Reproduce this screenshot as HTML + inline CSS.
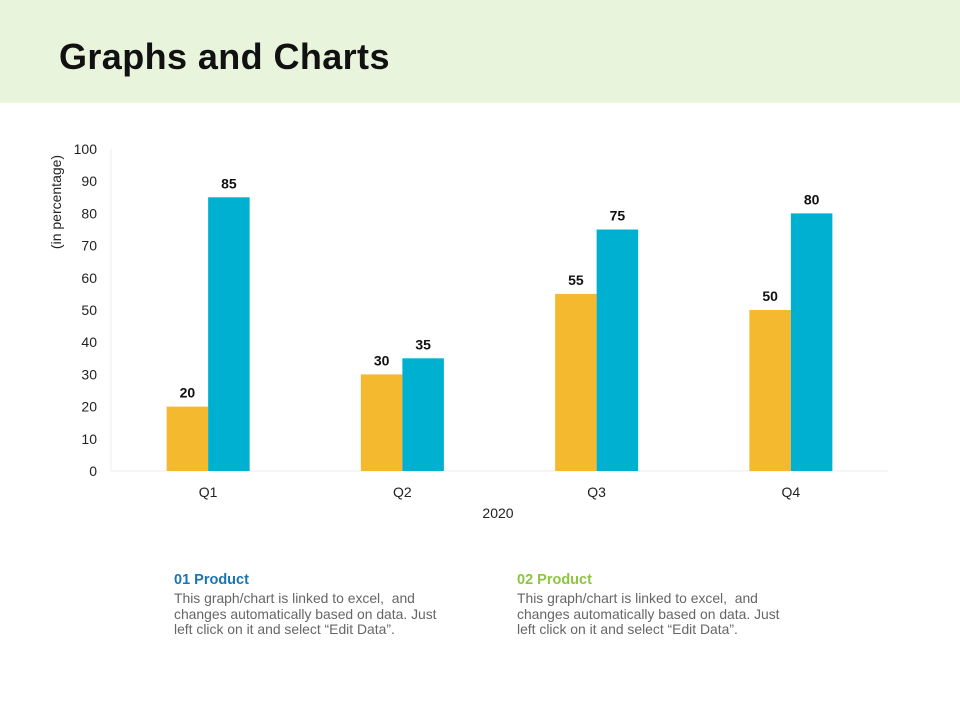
<!DOCTYPE html>
<html><head><meta charset="utf-8"><style>
body{margin:0;width:960px;height:720px;background:#fff;font-family:"Liberation Sans",Arial,sans-serif;position:relative;overflow:hidden}
#hdr{position:absolute;left:0;top:0;width:960px;height:103px;background:#e8f4dc}
#title{position:absolute;left:59px;top:36px;font-size:36px;font-weight:bold;color:#111;letter-spacing:0.4px}
.blk{position:absolute;top:572px;width:300px}
.blk h3{margin:0;font-size:14.5px;font-weight:bold}
.blk p{margin:3px 0 0;font-size:13.9px;line-height:15.5px;color:#666;white-space:nowrap}
</style></head><body>
<div id="hdr"></div>
<div id="title">Graphs and Charts</div>
<svg id="chart" width="960" height="720" style="position:absolute;left:0;top:0"></svg>
<div class="blk" style="left:174px"><h3 style="color:#1a75b8">01 Product</h3><p>This graph/chart is linked to excel,&nbsp; and<br>changes automatically based on data. Just<br>left click on it and select “Edit Data”.</p></div>
<div class="blk" style="left:517px"><h3 style="color:#8cc63f">02 Product</h3><p>This graph/chart is linked to excel,&nbsp; and<br>changes automatically based on data. Just<br>left click on it and select “Edit Data”.</p></div>
<script>
const categories=["Q1","Q2","Q3","Q4"];
const series1=[20,30,55,50];
const series2=[85,35,75,80];
const yTicks=[0,10,20,30,40,50,60,70,80,90,100];
const NS="http://www.w3.org/2000/svg";
const svg=document.getElementById('chart');
const x0=111,x1=888,y0=471,y1=149,yMax=100,bw=41.5;
const y=v=>y0-(v/yMax)*(y0-y1);
const xc=i=>x0+(x1-x0)/categories.length*(i+0.5);
function mk(t,a,txt){const e=document.createElementNS(NS,t);for(const k in a)e.setAttribute(k,a[k]);if(txt!=null)e.textContent=txt;svg.appendChild(e);return e;}
let e=mk('line',{x1:x0,y1:y1,x2:x0,y2:y0,stroke:'#eee'});

e=mk('line',{x1:x0,y1:y0,x2:x1,y2:y0,stroke:'#eee'});

yTicks.forEach(t=>{const l=mk('text',{x:97,y:y(t)+5,'text-anchor':'end','font-size':14,fill:'#222'},t);
});
categories.forEach((c,i)=>{
 const cx=xc(i);
 let l=mk('text',{x:cx,y:497,'text-anchor':'middle','font-size':14,fill:'#222'},c);
 
 let b=mk('rect',{x:cx-bw,y:y(series1[i]),width:bw,height:y0-y(series1[i]),fill:'#f4b92e'});
 
 let v=mk('text',{x:cx-bw/2,y:y(series1[i])-9,'text-anchor':'middle','font-size':14,'font-weight':'bold',fill:'#111'},series1[i]);
 
 b=mk('rect',{x:cx,y:y(series2[i]),width:bw,height:y0-y(series2[i]),fill:'#00b0d0'});
 
 v=mk('text',{x:cx+bw/2,y:y(series2[i])-9,'text-anchor':'middle','font-size':14,'font-weight':'bold',fill:'#111'},series2[i]);
 
});
e=mk('text',{x:498,y:518,'text-anchor':'middle','font-size':14,fill:'#222'},'2020');

e=mk('text',{x:0,y:0,'text-anchor':'middle','font-size':14,fill:'#222',transform:'translate(61,202) rotate(-90)'},'(in percentage)');

</script>
</body></html>
